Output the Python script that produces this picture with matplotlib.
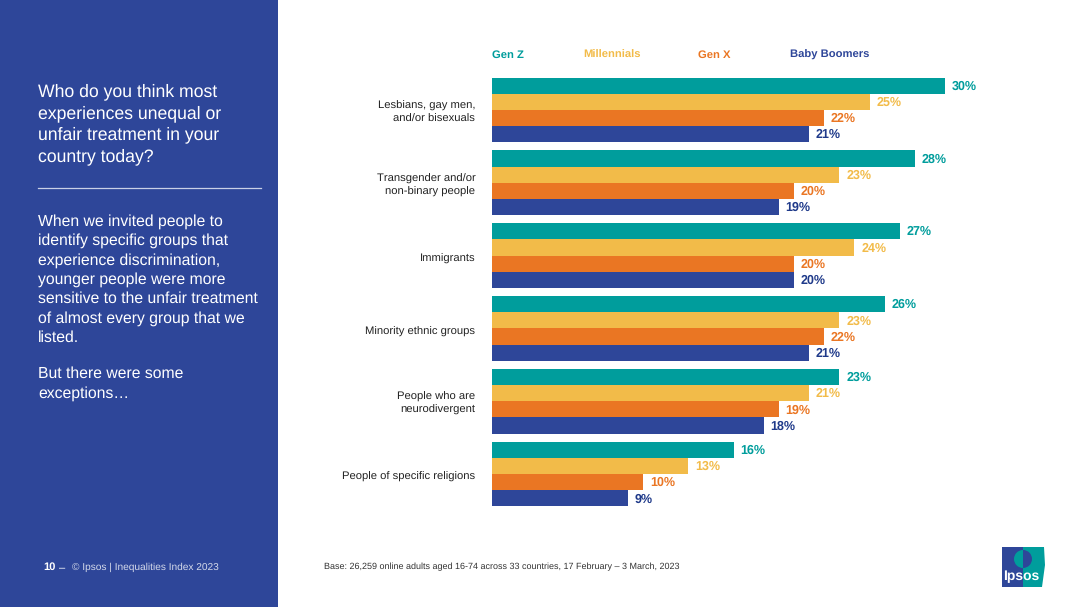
import matplotlib
matplotlib.use("Agg")
import matplotlib.pyplot as plt
from matplotlib.patches import Rectangle, Polygon, Wedge
from matplotlib.transforms import ScaledTranslation
import numpy as np

plt.rcParams['font.family'] = ['Liberation Sans', 'DejaVu Sans']
plt.rcParams['text.hinting'] = 'no_hinting'
plt.rcParams['text.kerning_factor'] = 6

groups = ["Lesbians, gay men,\nand/or bisexuals", "Transgender and/or\nnon-binary people", "Immigrants",
          "Minority ethnic groups", "People who are\nneurodivergent", "People of specific religions"]
gen_z = [30, 28, 27, 26, 23, 16]
millennials = [25, 23, 24, 23, 21, 13]
gen_x = [22, 20, 20, 22, 19, 10]
boomers = [21, 19, 20, 21, 18, 9]

series = ["Gen Z", "Millennials", "Gen X", "Baby Boomers"]
colors = ["#009d9c", "#f2bb49", "#ea7623", "#2e4699"]
label_colors = ["#009d9c", "#f2bb49", "#ea7623", "#1f3a8a"]
legend_x = [492, 583, 698, 790]

title = "Who do you think most\nexperiences unequal or\nunfair treatment in your\ncountry today?"
body = ("When we invited people to\nidentify specific groups that\nexperience discrimination,\n"
        "younger people were more\nsensitive to the unfair treatment\nof almost every group that we\nlisted.")
body2 = "But there were some\nexceptions…"
base = "Base: 26,259 online adults aged 16-74 across 33 countries, 17 February – 3 March, 2023"

W, H = 1080, 607
fig = plt.figure(figsize=(10.8, 6.07), dpi=100)

# background layer in pixel coordinates
bg = fig.add_axes([0, 0, 1, 1])
bg.set_xlim(0, W)
bg.set_ylim(H, 0)
bg.axis("off")
bg.add_patch(Rectangle((0, 0), 278, H, color="#2e4699", lw=0))
bg.plot([38, 261], [188, 188], color="#c9d0e6", lw=0.9)

bg.text(38, 83.5, title, color="white", fontsize=12.7, va="top", ha="left", linespacing=1.36)
bg.text(38, 214, body, color="white", fontsize=11.3, va="top", ha="left", linespacing=1.385)
bg.text(38, 366.5, body2, color="white", fontsize=11.3, va="top", ha="left", linespacing=1.385)
bg.text(43, 570, "10", color="white", fontsize=8, fontweight="bold", va="baseline")
bg.text(59, 570, "–", color="white", fontsize=8, va="baseline")
bg.text(72, 570, "© Ipsos | Inequalities Index 2023", color="#d5daea", fontsize=7.33, va="baseline")
bg.text(324, 569.5, base, color="#333333", fontsize=6.5, va="baseline")

for name, x, c in zip(series, legend_x, colors):
    bg.text(x, 57.5, name, color=c, fontsize=8.1, fontweight="bold", va="baseline")

# logo
bg.add_patch(Rectangle((1002, 547), 21, 40, color="#2e4699", lw=0))
bg.add_patch(Polygon([(1023, 547), (1044, 547), (1045, 565), (1042, 587), (1023, 587)], color="#009d9c", lw=0))
bg.add_patch(Wedge((1023, 559), 9, 90, 270, color="#009d9c", lw=0))
bg.add_patch(Wedge((1023, 559), 9, -90, 90, color="#2e4699", lw=0))
bg.text(1021, 576, "Ipsos", color="white", fontsize=10, fontweight="bold", ha="center", va="center")

# bars
x0, x1 = 492, 1000
top, bottom = 60, 520
ax = fig.add_axes([x0 / W, 1 - bottom / H, (x1 - x0) / W, (bottom - top) / H])
ax.patch.set_alpha(0)
ax.set_xlim(0, (x1 - x0) / 15.1)
group_px = 72.8
ax.set_ylim((bottom - 110) / group_px, (top - 110) / group_px)
bar_h = 16.2 / group_px

y = np.arange(len(groups))
for i, (vals, c, lc) in enumerate(zip([gen_z, millennials, gen_x, boomers], colors, label_colors)):
    pos = y + (i - 1.5) * bar_h
    ax.barh(pos, vals, height=bar_h, color=c, lw=0)
    for p, v in zip(pos, vals):
        ax.text(v + 0.45, p + 0.01, f"{v}%", color=lc, fontsize=9, fontweight="bold", va="center", ha="left")

ax.set_yticks(y)
ax.set_yticklabels(groups, fontsize=8.1, color="#222222", linespacing=1.3, ha="right", va="center_baseline")
ax.tick_params(axis="y", length=0, pad=12)
ax.set_xticks([])
for s in ax.spines.values():
    s.set_visible(False)

# single-line labels sit slightly lower in the original
nudge = ScaledTranslation(0, -1.5 / 72, fig.dpi_scale_trans)
for lab in ax.get_yticklabels():
    if "\n" not in lab.get_text():
        lab.set_transform(lab.get_transform() + nudge)

fig.savefig("out.png", dpi=100)
